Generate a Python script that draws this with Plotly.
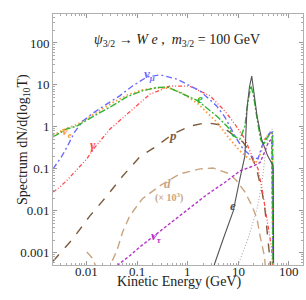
import numpy as np
import plotly.graph_objects as go

# ---- data (log10 T [GeV], log10 spectrum) ----
numu_lx = [-2.67, -2.5, -2.38, -2.24, -2.08, -1.84, -1.6, -1.35, -1.09, -0.81, -0.55, -0.22, 0.24, 0.57, 0.73, 0.93, 1.09, 1.27, 1.39, 1.47, 1.55, 1.62, 1.68, 1.69]
numu_ly = [-1.0, -0.71, -0.45, -0.12, 0.14, 0.36, 0.55, 0.74, 0.98, 1.19, 1.24, 1.14, 0.86, 0.5, 0.24, -0.21, -0.52, -0.71, -0.76, -0.45, -0.25, -0.15, -0.12, -4]

e_lx = [-2.67, -2.4, -2.2, -2.0, -1.8, -1.5, -1.2, -0.9, -0.6, -0.4, -0.1, 0.2, 0.57, 0.83, 0.89, 1.03, 1.13, 1.19, 1.25, 1.3, 1.37, 1.44, 1.5, 1.56, 1.62, 1.67, 1.69]
e_ly = [-0.24, -0.05, 0.02, 0.15, 0.3, 0.5, 0.72, 0.86, 0.94, 0.95, 0.79, 0.62, 0.26, -0.05, -0.21, -0.29, 0.02, 0.6, 0.98, 0.75, 0.2, -0.3, -0.42, -0.28, -0.18, -0.14, -4]

nue_lx = [-2.67, -2.4, -2.2, -2.0, -1.8, -1.5, -1.2, -0.9, -0.6, -0.35, -0.1, 0.2, 0.57, 0.83, 1.03, 1.2, 1.35, 1.45, 1.52, 1.6, 1.67, 1.69]
nue_ly = [-0.2, -0.03, 0.05, 0.2, 0.36, 0.57, 0.76, 0.88, 0.93, 0.92, 0.8, 0.55, 0.12, -0.29, -0.57, -0.75, -0.85, -0.6, -0.3, -0.18, -0.12, -4]

gam_lx = [-2.67, -2.55, -2.4, -2.2, -2.0, -1.85, -1.54, -1.15, -0.75, -0.36, 0.04, 0.44, 0.73, 0.93, 1.13, 1.27, 1.39, 1.47, 1.57, 1.66, 1.7]
gam_ly = [-1.55, -1.45, -1.28, -1.02, -0.76, -0.5, -0.05, 0.36, 0.78, 0.97, 0.97, 0.74, 0.38, 0.07, -0.29, -0.69, -1.0, -1.48, -2.2, -2.9, -4]

p_lx = [-2.67, -2.28, -1.94, -1.6, -1.29, -0.95, -0.61, -0.3, 0.04, 0.37, 0.63, 0.89, 1.09, 1.2, 1.35, 1.47, 1.53, 1.59, 1.63, 1.66]
p_ly = [-3.2, -2.67, -2.12, -1.64, -1.17, -0.71, -0.45, -0.17, 0.02, 0.1, 0.05, -0.17, -0.36, -0.55, -0.95, -1.55, -2.0, -2.74, -3.2, -4]

d_lx = [-2.0, -1.88, -1.8, -1.6, -1.5, -1.4, -1.29, -1.15, -0.9, -0.55, -0.16, 0.24, 0.5, 0.83, 0.97, 1.13, 1.27, 1.37, 1.43, 1.52, 1.57]
d_ly = [-2.98, -3.14, -3.4, -3.6, -3.2, -2.93, -2.5, -2.12, -1.71, -1.4, -1.12, -1.0, -0.98, -1.12, -1.29, -1.55, -1.88, -2.19, -2.6, -3.1, -4]

nut_lx = [-1.4, -1.15, -0.95, -0.69, -0.3, 0.0, 0.37, 0.77, 1.03, 1.3, 1.43, 1.52, 1.6, 1.66, 1.69]
nut_ly = [-3.3, -3.07, -2.86, -2.62, -2.25, -1.98, -1.62, -1.29, -1.05, -0.93, -0.85, -0.6, -0.35, -0.3, -4]

emono_lx = [0.5, 0.53, 0.7, 0.9, 1.03, 1.13, 1.17, 1.22, 1.265, 1.31, 1.37, 1.46, 1.58, 1.69, 1.7]
emono_ly = [-3.4, -3.26, -2.67, -2.0, -1.24, -0.69, 0.43, 0.95, 1.21, 0.85, 0.26, -0.29, -0.69, -0.93, -4]

eb_lx = [0.99, 1.19, 1.37, 1.47, 1.5, 1.55, 1.6, 1.67, 1.69]
eb_ly = [-3.3, -2.67, -1.95, -1.31, -1.0, -0.5, -0.15, -0.05, -4]

x_tickvals = [0.01, 0.1, 1, 10, 100]
x_ticktext = ["0.01", "0.1", "1", "10", "100"]
y_tickvals = [0.001, 0.01, 0.1, 1, 10, 100]
y_ticktext = ["0.001", "0.01", "0.1", "1", "10", "100"]

def lin(a):
    return 10 ** np.array(a, dtype=float)

series = [
    (p_lx, p_ly, "#7d5a3c", "dash", 1.4),
    (d_lx, d_ly, "#c9a581", "8px,5px", 1.4),
    (nut_lx, nut_ly, "#b533c8", "3px,2px", 1.4),
    (eb_lx, eb_ly, "#aaaaaa", "1px,2px", 1.1),
    (gam_lx, gam_ly, "#ff4b4b", "4px,2px,1px,2px,1px,2px", 1.3),
    (nue_lx, nue_ly, "#ff9a3c", "1.5px,2.5px", 1.8),
    (numu_lx, numu_ly, "#6b6bff", "6px,3px,2px,3px", 1.4),
    (e_lx, e_ly, "#2fb52f", "7px,2px,2px,2px", 1.4),
    (emono_lx, emono_ly, "#555555", "solid", 1.1),
]

fig = go.Figure()
for lx, ly, col, dash, w in series:
    fig.add_trace(go.Scatter(x=lin(lx), y=lin(ly), mode="lines",
                             line=dict(color=col, dash=dash, width=w),
                             showlegend=False, hoverinfo="skip"))

serif = "Liberation Serif"
minor_x = [m * 10.0 ** k for k in range(-3, 3) for m in range(2, 10)]
minor_y = [m * 10.0 ** k for k in range(-4, 3) for m in range(2, 10)]

axis_common = dict(type="log", showgrid=False, zeroline=False, showline=True,
                   linecolor="#b0b0b0", linewidth=1, mirror="ticks",
                   ticks="inside", ticklen=4, tickwidth=1, tickcolor="#999999",
                   tickfont=dict(family=serif, size=13, color="#222222"))

fig.update_xaxes(range=[-2.67, 2.28], tickmode="array", tickvals=x_tickvals, ticktext=x_ticktext,
                 showticklabels=False,
                 minor=dict(ticks="inside", ticklen=2, tickcolor="#aaaaaa", tickvals=minor_x),
                 **axis_common)
fig.update_yaxes(range=[-3.29, 2.69], tickmode="array", tickvals=y_tickvals, ticktext=y_ticktext,
                 minor=dict(ticks="inside", ticklen=2, tickcolor="#aaaaaa", tickvals=minor_y),
                 **axis_common)

def lab(text, lx, ly, color, size=13):
    return dict(x=lx, y=ly, xref="x", yref="y", text=text, showarrow=False,
                font=dict(family=serif, size=size, color=color))

annotations = [
    lab("<b><i>ν</i></b><sub><b><i>μ</i></b></sub>", -0.75, 1.24, "#6b6bff"),
    lab("<b><i>e</i></b>", 0.24, 0.67, "#2fb52f"),
    lab("<b><i>ν</i></b><sub><b><i>e</i></b></sub>", -2.4, -0.1, "#ff9a3c"),
    lab("<b><i>γ</i></b>", -1.87, -0.43, "#ff4b4b"),
    lab("<b><i>p</i></b>", -0.3, -0.21, "#7d5a3c"),
    lab("<b><i>d</i></b>", -0.4, -1.36, "#c9a581"),
    lab("<b>(× 10<sup>3</sup>)</b>", -0.38, -1.67, "#c9a581", size=10),
    lab("<b><i>e</i></b>", 0.89, -1.88, "#555555"),
    lab("<b><i>ν</i></b><sub><b><i>τ</i></b></sub>", -0.63, -2.62, "#b533c8"),
    dict(x=0.504, y=-0.106, xref="paper", yref="paper", text="Kinetic Energy (GeV)",
         showarrow=False, font=dict(family=serif, size=14, color="#222222")),
    dict(x=-0.16, y=0.5, xref="paper", yref="paper", text="Spectrum dN/d(log<sub>10</sub>T)",
         textangle=-90, showarrow=False, font=dict(family=serif, size=14, color="#222222")),
    dict(x=0.496, y=0.936, xref="paper", yref="paper",
         text="<i>ψ</i><sub>3/2</sub> → <i>W e</i> ,  <i>m</i><sub>3/2</sub> = 100 GeV",
         showarrow=False, font=dict(family=serif, size=14, color="#222222")),
]
# x tick labels placed at the axis' own tick values, just under the frame
for v, t in zip(x_tickvals, x_ticktext):
    annotations.append(dict(x=np.log10(v), y=0.006, xref="x", yref="paper", yanchor="top",
                            text=t, showarrow=False, borderpad=0,
                            font=dict(family=serif, size=13, color="#222222")))

fig.update_layout(width=306, height=300, margin=dict(l=53, r=3, t=14, b=35),
                  paper_bgcolor="white", plot_bgcolor="white",
                  annotations=annotations, showlegend=False)

fig.write_html("out.html", config={"displayModeBar": False},
               post_script="document.body.style.margin='0';document.body.style.padding='0';")
